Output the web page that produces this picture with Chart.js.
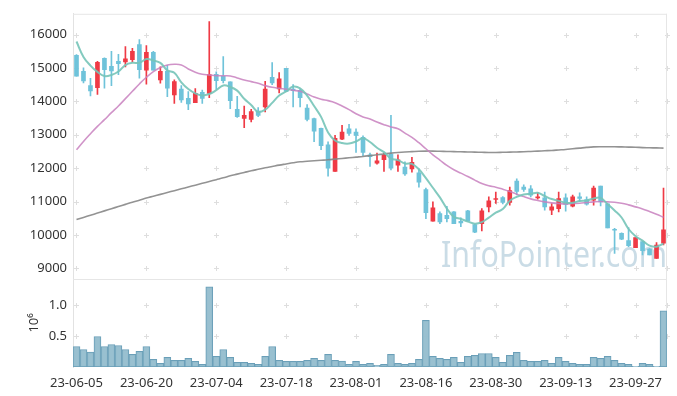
<!DOCTYPE html>
<html>
<head>
<meta charset="utf-8">
<script src="https://cdn.jsdelivr.net/npm/chart.js@4.4.0/dist/chart.umd.min.js"></script>
<style>
html, body { margin: 0; padding: 0; background: #fff; }
#wrap { width: 677px; height: 396px; position: relative; }
</style>
</head>
<body>
<div id="wrap"><canvas id="stockChart"></canvas></div>
<script>
// Trading days (category axis)
const dates = [
'23-06-05','23-06-07','23-06-08','23-06-09','23-06-12','23-06-13','23-06-14','23-06-15','23-06-16','23-06-19',
'23-06-20','23-06-21','23-06-22','23-06-23','23-06-26','23-06-27','23-06-28','23-06-29','23-06-30','23-07-03',
'23-07-04','23-07-05','23-07-06','23-07-07','23-07-10','23-07-11','23-07-12','23-07-13','23-07-14','23-07-17',
'23-07-18','23-07-19','23-07-20','23-07-21','23-07-24','23-07-25','23-07-26','23-07-27','23-07-28','23-07-31',
'23-08-01','23-08-02','23-08-03','23-08-04','23-08-07','23-08-08','23-08-09','23-08-10','23-08-11','23-08-14',
'23-08-16','23-08-17','23-08-18','23-08-21','23-08-22','23-08-23','23-08-24','23-08-25','23-08-28','23-08-29',
'23-08-30','23-08-31','23-09-01','23-09-04','23-09-05','23-09-06','23-09-07','23-09-08','23-09-11','23-09-12',
'23-09-13','23-09-14','23-09-15','23-09-18','23-09-19','23-09-20','23-09-21','23-09-22','23-09-25','23-09-26',
'23-09-27','23-10-04','23-10-05','23-10-06','23-10-10'
];

// OHLC
const opens = [
15380,14900,14470,14410,15290,15050,15200,15180,15250,15700,
14930,15470,14640,14900,14190,14370,14090,13960,14270,14240,
14810,14750,14580,13760,13490,13460,13710,13830,14720,14370,
14990,14370,14330,13800,13480,13190,12700,11900,12870,13180,
13080,12920,12400,12150,12250,12420,12090,12030,11980,11860,
11360,10410,10640,10590,10690,10410,10720,10310,10340,10840,
11060,11120,10970,11610,11430,11380,11110,11110,10740,10790,
11110,10860,11140,11060,11040,11460,10930,10170,10050,9830,
9620,9800,9580,9300,9750
];
const highs = [
15400,15000,14690,15200,15300,15500,15410,15640,15590,15850,
15670,15500,15030,15080,14640,14470,14290,14380,14340,16390,
14880,15340,14580,14150,13860,13760,13810,14600,15160,14860,
14990,14500,14370,13900,13500,13200,12790,12980,13280,13310,
13180,12970,12450,12450,12450,13580,12400,12190,12320,11980,
11400,10990,10690,10860,10700,10510,10740,10320,10790,11140,
11280,11150,11430,11680,11500,11480,11260,11280,10940,11280,
11230,11190,11260,11140,11460,11460,10930,10200,10060,10220,
9920,9800,9590,9770,11400
];
const lows = [
14750,14550,14160,14210,14390,14470,14800,15030,15180,14690,
14510,14930,14540,14140,13940,13970,13750,13960,13940,14110,
14360,14550,13780,13520,13210,13380,13540,13680,14500,14250,
14290,13830,13830,13410,12790,12550,11760,11900,12850,12980,
12470,12370,12050,12120,11900,11950,11900,11780,11880,11430,
10490,10410,10340,10390,10340,10250,10420,10070,10120,10690,
10940,10930,10890,11200,11300,11140,11070,10740,10610,10690,
10710,10840,11010,10890,10890,10870,10210,9450,9860,9650,
9620,9400,9400,9300,9700
];
const closes = [
14750,14610,14310,15170,14950,14910,15130,15270,15500,14950,
15470,14930,14900,14390,14590,14040,13920,14240,14090,14800,
14620,14620,14020,13540,13580,13690,13580,14370,14550,14670,
14300,14320,14110,13460,13110,12670,12000,12890,13080,13040,
12980,12470,12340,12220,12390,12000,12250,11830,12170,11580,
10670,10810,10390,10490,10340,10360,10420,10080,10720,11020,
11090,10970,11330,11300,11360,11190,11140,10840,10840,11090,
10910,11140,11090,10920,11400,10990,10210,10140,9870,9680,
9920,9530,9400,9700,10150
];

// Moving averages
const ma5 = [
15790,15330,15070,14880,14758,14790,14894,15086,15152,15152,
15264,15224,15150,14928,14856,14570,14368,14236,14176,14218,
14334,14474,14430,14320,14076,13890,13682,13752,13954,14172,
14294,14442,14390,14172,13860,13534,13070,12826,12750,12736,
12798,12892,12782,12610,12480,12284,12240,12138,12128,11966,
11700,11412,11124,10788,10540,10478,10400,10338,10384,10520,
10666,10776,11026,11142,11210,11230,11264,11166,11074,11020,
10964,10964,11014,11030,11092,11108,10922,10732,10522,10178,
9964,9828,9680,9646,9740
];
const ma20 = [
12550,12800,13030,13250,13450,13660,13860,14080,14300,14520,
14720,14890,15010,15090,15110,15090,14970,14870,14810,14790,
14770,14765,14760,14700,14640,14590,14540,14470,14420,14390,
14360,14330,14300,14220,14130,14060,14020,13960,13860,13750,
13630,13530,13470,13380,13300,13230,13180,13050,12920,12760,
12580,12400,12240,12080,11950,11850,11750,11640,11540,11470,
11430,11370,11300,11220,11150,11080,11030,10990,10960,10940,
10930,10940,10950,10970,10990,11000,10990,10980,10950,10900,
10840,10780,10700,10620,10530
];
const ma120 = [
10460,10525,10590,10655,10720,10785,10850,10915,10980,11040,
11105,11160,11215,11270,11325,11380,11435,11490,11545,11600,
11655,11710,11770,11820,11870,11920,11965,12010,12050,12090,
12125,12160,12190,12205,12220,12235,12250,12270,12290,12310,
12330,12350,12375,12400,12425,12450,12470,12485,12495,12505,
12510,12510,12505,12500,12495,12490,12485,12480,12475,12470,
12470,12475,12480,12485,12490,12500,12510,12520,12530,12545,
12560,12580,12600,12620,12635,12640,12640,12640,12635,12630,
12625,12615,12610,12605,12600
];

// Volume (shares)
const volumes = [
333000,285000,242000,495000,333000,366000,349000,285000,204000,253000,
333000,124000,59000,156000,108000,108000,140000,91000,43000,1301000,
172000,285000,156000,75000,75000,59000,43000,172000,333000,108000,
91000,91000,91000,108000,140000,108000,204000,110000,97000,43000,
91000,43000,59000,27000,43000,204000,59000,43000,59000,124000,
758000,172000,140000,124000,156000,75000,172000,188000,220000,220000,
156000,75000,188000,237000,108000,91000,91000,108000,59000,156000,
91000,59000,43000,43000,156000,140000,172000,108000,59000,43000,
11000,59000,43000,11000,914000
];

// Tick values
const priceTicks = [9000, 10000, 11000, 12000, 13000, 14000, 15000, 16000];
const volumeTicks = [500000, 1000000];

const UP = '#ef3a45';
const DOWN = '#6fc3da';
const candleColor = closes.map((c, i) => c >= opens[i] ? UP : DOWN);
const tickFont = { family: "'Noto Sans', sans-serif", size: 13 };

// light plus marks on tick crossings, frame lines and watermark
const decorPlugin = {
  id: 'decor',
  beforeDatasetsDraw: (chart) => {
    const { ctx, chartArea: { left, right, top, bottom } } = chart;
    const x = chart.scales.x, y = chart.scales.y, yv = chart.scales.yv;
    ctx.save();
    // watermark
    ctx.font = "36px 'Noto Sans', sans-serif";
    ctx.fillStyle = 'rgba(170,198,214,0.62)';
    ctx.textBaseline = 'alphabetic';
    ctx.fillText('InfoPointer.com', 441, 267, 226);
    // crosses
    ctx.strokeStyle = '#dedede';
    ctx.lineWidth = 1;
    const xs = x.ticks.map((t, i) => x.getPixelForTick(i));
    const ys = priceTicks.map(v => y.getPixelForValue(v))
      .concat(volumeTicks.map(v => yv.getPixelForValue(v)));
    ctx.beginPath();
    xs.concat([right]).forEach(px => {
      ys.forEach(py => {
        const cx = Math.round(px) + 0.5, cy = Math.round(py) + 0.5;
        ctx.moveTo(cx - 2.5, cy); ctx.lineTo(cx + 2.5, cy);
        ctx.moveTo(cx, cy - 2.5); ctx.lineTo(cx, cy + 2.5);
      });
    });
    ctx.stroke();
    // frame
    ctx.strokeStyle = '#e6e6e6';
    ctx.beginPath();
    ctx.moveTo(left, top + 0.5); ctx.lineTo(right, top + 0.5);
    ctx.moveTo(Math.round(right) - 0.5, top); ctx.lineTo(Math.round(right) - 0.5, bottom);
    ctx.moveTo(left, Math.round(yv.top) + 0.5); ctx.lineTo(right, Math.round(yv.top) + 0.5);
    ctx.stroke();
    ctx.restore();
  }
};

const ctx = document.getElementById('stockChart').getContext('2d');
const stockChart = new Chart(ctx, {
  data: {
    labels: dates,
    datasets: [
      { type: 'line', label: 'MA5', data: ma5, yAxisID: 'y', borderColor: 'rgba(118,196,184,0.9)', borderWidth: 2, pointRadius: 0, tension: 0.4, order: 0 },
      { type: 'line', label: 'MA20', data: ma20, yAxisID: 'y', borderColor: 'rgba(200,128,190,0.85)', borderWidth: 1.6, pointRadius: 0, tension: 0.4, order: 0 },
      { type: 'line', label: 'MA120', data: ma120, yAxisID: 'y', borderColor: 'rgba(135,135,135,0.9)', borderWidth: 1.6, pointRadius: 0, tension: 0.4, order: 0 },
      { type: 'bar', label: 'wick', data: lows.map((l, i) => [l, highs[i]]), yAxisID: 'y', backgroundColor: candleColor, barThickness: 1, grouped: false, borderWidth: 0, order: 2 },
      { type: 'bar', label: 'body', data: opens.map((o, i) => [o, closes[i]]), yAxisID: 'y', backgroundColor: candleColor, barThickness: 4, minBarLength: 1, grouped: false, borderWidth: 0, order: 1 },
      { type: 'bar', label: 'Volume', data: volumes, yAxisID: 'yv', backgroundColor: 'rgba(148,189,205,0.95)', borderColor: '#6a9fb8', borderWidth: 1, borderSkipped: false, barPercentage: 1, categoryPercentage: 1, grouped: false, order: 3 }
    ]
  },
  options: {
    responsive: true,
    maintainAspectRatio: false,
    animation: false,
    layout: { padding: { left: 26, right: 10, top: 10, bottom: 0 } },
    plugins: { legend: { display: false }, tooltip: { enabled: false } },
    scales: {
      x: {
        type: 'category',
        offset: true,
        grid: { display: false, drawTicks: false },
        border: { display: false },
        ticks: { autoSkip: false, maxRotation: 0, padding: 8, font: tickFont, color: '#333' },
        afterBuildTicks: (s) => { s.ticks = s.ticks.filter(t => t.value % 10 === 0); },
        afterFit: (s) => { s.height = 29; }
      },
      yv: {
        type: 'linear',
        position: 'left',
        stack: 'panes',
        stackWeight: 1,
        min: 0,
        max: 1435000,
        grid: { display: false, drawTicks: false },
        border: { color: '#e2e2e2' },
        ticks: { padding: 6, font: tickFont, color: '#333', callback: (v) => (v / 1e6).toFixed(1) },
        afterBuildTicks: (s) => { s.ticks = volumeTicks.map(v => ({ value: v })); },
        title: { display: true, text: '10⁶', font: tickFont, color: '#333', padding: { top: 0, bottom: 0 } },
        afterFit: (s) => { s.width = 47; }
      },
      y: {
        type: 'linear',
        position: 'left',
        stack: 'panes',
        stackWeight: 3,
        min: 8690,
        max: 16620,
        grid: { display: false, drawTicks: false },
        border: { color: '#e2e2e2' },
        ticks: { padding: 6, font: tickFont, color: '#333', callback: (v) => String(v) },
        afterBuildTicks: (s) => { s.ticks = priceTicks.map(v => ({ value: v })); },
        afterFit: (s) => { s.width = 47; }
      }
    }
  },
  plugins: [decorPlugin]
});
</script>
</body>
</html>
